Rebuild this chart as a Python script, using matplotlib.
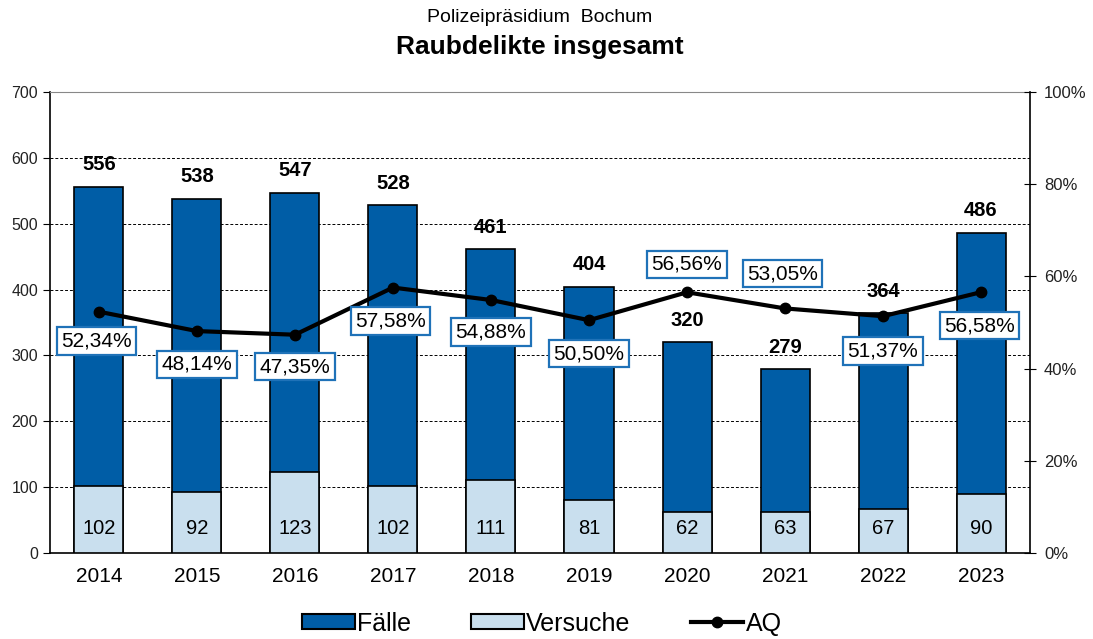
import numpy as np
import matplotlib.pyplot as plt
from matplotlib.patches import Patch
from matplotlib.lines import Line2D

plt.rcParams['font.family'] = ['Liberation Sans', 'DejaVu Sans']

# data
years = ['2014', '2015', '2016', '2017', '2018', '2019', '2020', '2021', '2022', '2023']
faelle = [556, 538, 547, 528, 461, 404, 320, 279, 364, 486]
versuche = [102, 92, 123, 102, 111, 81, 62, 63, 67, 90]
aq = [52.34, 48.14, 47.35, 57.58, 54.88, 50.50, 56.56, 53.05, 51.37, 56.58]

# where the AQ label sits relative to its point (x, y in points)
aq_offsets = [(-2, -21), (0, -24), (0, -23), (-2, -24), (0, -23),
              (0, -24), (0, 20), (-2, 25), (0, -25), (-1, -24)]

dark = '#005DA6'
light = '#C9DFEE'
box_edge = '#1F72B8'

fig = plt.figure(figsize=(10.93, 6.39), dpi=100)
ax = fig.add_axes([0.0457, 0.1346, 0.8967, 0.7214])
x = np.arange(len(years))

ax.bar(x, faelle, width=0.5, color=dark, edgecolor='black', linewidth=1.2, zorder=2)
ax.bar(x, versuche, width=0.5, color=light, edgecolor='black', linewidth=1.2, zorder=3)

for i in range(len(years)):
    ax.annotate(str(faelle[i]), (x[i], faelle[i]), xytext=(0, 16), textcoords='offset points',
                ha='center', va='center', fontsize=14.5, fontweight='bold', zorder=5)
    ax.text(x[i], 37, str(versuche[i]), ha='center', va='center', fontsize=14.5, zorder=5)

ax.set_ylim(0, 700)
ax.set_xlim(-0.5, len(years) - 0.5)
ax.set_yticks(range(0, 701, 100))
ax.set_xticks(x)
ax.set_xticklabels(years, fontsize=15)
ax.tick_params(axis='x', length=0, pad=10)
ax.tick_params(axis='y', labelsize=11.5, length=5, direction='out', colors='black')
for tk in ax.get_yticklabels():
    tk.set_color('#222222')
for yv in range(100, 700, 100):
    ax.axhline(yv, color='black', linestyle=(0, (3, 2)), linewidth=0.7, zorder=1)
ax.spines['top'].set_color('#888888')
ax.spines['top'].set_linewidth(0.8)
ax.spines['right'].set_visible(False)
ax.spines['left'].set_linewidth(1.2)
ax.spines['bottom'].set_linewidth(1.2)

ax2 = ax.twinx()
ax2.set_ylim(0, 100)
ax2.set_yticks(range(0, 101, 20))
ax2.set_yticklabels([f'{v}%' for v in range(0, 101, 20)])
ax2.tick_params(axis='y', labelsize=12, length=8, direction='inout', pad=6)
for tk in ax2.get_yticklabels():
    tk.set_color('#222222')
for s in ['top', 'left', 'bottom']:
    ax2.spines[s].set_visible(False)
ax2.spines['right'].set_linewidth(1.2)

ax2.plot(x, aq, color='black', linewidth=3, marker='o', markersize=7.5, zorder=4)
for i in range(len(years)):
    lbl = f'{aq[i]:.2f}%'.replace('.', ',')
    ax2.annotate(lbl, (x[i], aq[i]), xytext=aq_offsets[i], textcoords='offset points',
                 ha='center', va='center', fontsize=15, zorder=6,
                 bbox=dict(boxstyle='square,pad=0.2', facecolor='white', edgecolor=box_edge, linewidth=1.6))

fig.text(0.494, 0.972, 'Polizeipräsidium  Bochum', ha='center', va='center', fontsize=14)
fig.text(0.494, 0.927, 'Raubdelikte insgesamt', ha='center', va='center', fontsize=19, fontweight='bold')

handles = [Patch(facecolor=dark, edgecolor='black', linewidth=1.5, label='Fälle'),
           Patch(facecolor=light, edgecolor='black', linewidth=1.5, label='Versuche'),
           Line2D([0], [0], color='black', linewidth=3, marker='o', markersize=7.5, label='AQ')]
fig.legend(handles=handles, loc='center', bbox_to_anchor=(0.496, 0.024), ncol=3, frameon=False,
           fontsize=18, handlelength=2.1, handleheight=0.55, handletextpad=0.1, columnspacing=2.4)

fig.savefig('out.png', dpi=100)
